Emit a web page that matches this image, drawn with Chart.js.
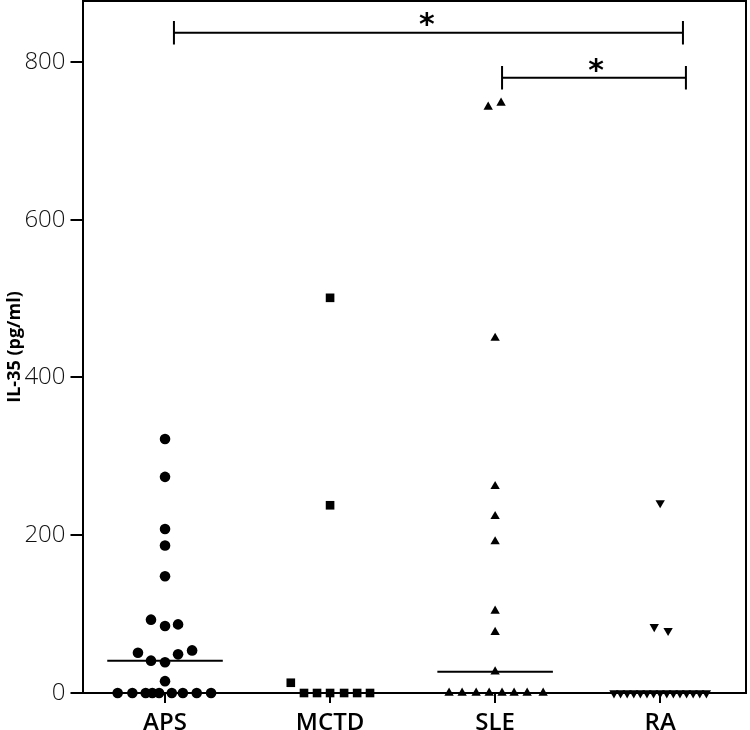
<!DOCTYPE html>
<html><head><meta charset="utf-8">
<script src="https://cdn.jsdelivr.net/npm/chart.js@4/dist/chart.umd.min.js"></script>
<style>html,body{margin:0;padding:0;background:#fff}#wrap{width:750px;height:730px;position:relative}</style>
</head><body><div id="wrap"><canvas id="c"></canvas></div>
<script>
// ---- data ----
const categories = ['APS', 'MCTD', 'SLE', 'RA'];
const yTicks = [0, 200, 400, 600, 800];
const yTitle = 'IL-35 (pg/ml)';

const apsValues  = [322, 274, 208, 187, 148, 93, 85, 87, 51, 54, 49, 41, 39, 15, 0, 0, 0, 0, 0, 0, 0, 0, 0];
const apsJitter  = [0, 0, 0, 0, 0, -0.085, 0, 0.079, -0.164, 0.164, 0.079, -0.085, 0, 0,
                    -0.287, -0.198, -0.117, -0.077, -0.036, 0.041, 0.108, 0.192, 0.279];
const mctdValues = [501, 238, 13, 0, 0, 0, 0, 0, 0];
const mctdJitter = [0, 0, -0.238, -0.158, -0.079, 0, 0.085, 0.164, 0.242];
const sleValues  = [748, 743, 450, 262, 224, 192, 104, 77, 27, 0, 0, 0, 0, 0, 0, 0, 0];
const sleJitter  = [0.036, -0.042, 0, 0, 0, 0, 0, 0, 0, -0.279, -0.2, -0.115, -0.036, 0.042, 0.115, 0.194, 0.291];
const raValues   = [241, 84, 79, 0, 0, 0, 0, 0, 0, 0, 0, 0, 0, 0, 0, 0, 0, 0];
const raJitter   = [0, -0.036, 0.048, -0.28, -0.24, -0.2, -0.16, -0.12, -0.08, -0.04, 0, 0.04, 0.08, 0.12, 0.16, 0.2, 0.24, 0.28];

// significance brackets: [from category pos, to category pos, value level]
const bracketFrom  = [0.054, 2.042];
const bracketTo    = [3.138, 3.156];
const bracketLevel = [837, 780];
const bracketTick  = 15;
const starLabels   = ['*', '*'];
const starX        = [1.587, 2.611];
const starY        = [854, 795];

// ---- helpers ----
function median(arr) {
  const s = [...arr].sort((a, b) => a - b);
  const n = s.length;
  return n % 2 ? s[(n - 1) / 2] : (s[n / 2 - 1] + s[n / 2]) / 2;
}
function pts(values, jitter, idx) {
  return values.map((v, i) => ({ x: idx + jitter[i], y: v }));
}
const groups = [
  { v: apsValues, j: apsJitter, style: 'circle', r: 5.3, rot: 0 },
  { v: mctdValues, j: mctdJitter, style: 'rect', r: 6.1, rot: 0 },
  { v: sleValues, j: sleJitter, style: 'triangle', r: 5.4, rot: 0 },
  { v: raValues, j: raJitter, style: 'triangle', r: 5.4, rot: 180 }
];
const medianHalf = 0.35;

const datasets = [];
groups.forEach((g, i) => {
  datasets.push({
    type: 'scatter', data: pts(g.v, g.j, i),
    pointStyle: g.style, pointRadius: g.r, pointRotation: g.rot,
    pointBackgroundColor: '#000', pointBorderWidth: 0, borderColor: '#000',
    showLine: false, clip: false
  });
});
groups.forEach((g, i) => {
  const m = median(g.v);
  datasets.push({
    type: 'line', data: [{ x: i - medianHalf, y: m }, { x: i + medianHalf, y: m }],
    borderColor: '#000', borderWidth: 2, pointRadius: 0, clip: false, fill: false
  });
});
bracketFrom.forEach((f, k) => {
  const t = bracketTo[k], y = bracketLevel[k];
  datasets.push({
    type: 'line',
    data: [{ x: f, y: y - bracketTick }, { x: f, y: y + bracketTick }, { x: f, y: y },
           { x: t, y: y }, { x: t, y: y + bracketTick }, { x: t, y: y - bracketTick }],
    borderColor: '#000', borderWidth: 2, pointRadius: 0, clip: false, fill: false, tension: 0
  });
});

const framePlugin = {
  id: 'frame',
  beforeDatasetsDraw(chart) {
    const { ctx, chartArea: a } = chart;
    ctx.save();
    ctx.strokeStyle = '#000';
    ctx.lineWidth = 2;
    ctx.beginPath();
    ctx.moveTo(a.left, a.top);
    ctx.lineTo(a.right, a.top);
    ctx.lineTo(a.right, a.bottom);
    ctx.stroke();
    ctx.restore();
  },
  afterDatasetsDraw(chart) {
    const { ctx, scales } = chart;
    ctx.save();
    ctx.fillStyle = '#000';
    ctx.font = 'bold 30px "DejaVu Sans"';
    ctx.textAlign = 'center';
    ctx.textBaseline = 'alphabetic';
    starLabels.forEach((s, k) => {
      const px = scales.x.getPixelForValue(starX[k]);
      const py = scales.y.getPixelForValue(starY[k]);
      const m = ctx.measureText(s);
      const off = (m.actualBoundingBoxAscent - m.actualBoundingBoxDescent) / 2;
      ctx.fillText(s, px, py + off);
    });
    ctx.restore();
  }
};

new Chart(document.getElementById('c'), {
  data: { datasets },
  options: {
    responsive: true, maintainAspectRatio: false, animation: false,
    layout: { autoPadding: false, padding: { top: 1, right: 4, left: 0, bottom: 0 } },
    plugins: { legend: { display: false }, tooltip: { enabled: false } },
    scales: {
      x: {
        type: 'linear', min: -0.5, max: 3.52,
        afterBuildTicks: s => { s.ticks = categories.map((c, i) => ({ value: i })); },
        ticks: {
          callback: v => categories[v], color: '#000', padding: 6,
          autoSkip: false, maxRotation: 0,
          font: { family: 'Open Sans', size: 24, weight: 600 }
        },
        grid: { drawOnChartArea: false, drawTicks: true, tickLength: 10, color: '#000', lineWidth: 2 },
        border: { display: true, color: '#000', width: 2 },
        afterFit: s => { s.height = 37; s.paddingLeft = 0; s.paddingRight = 0; }
      },
      y: {
        type: 'linear', min: 0, max: 877.3,
        afterBuildTicks: s => { s.ticks = yTicks.map(v => ({ value: v })); },
        ticks: { color: '#111', padding: 5, font: { family: 'Open Sans', size: 24, weight: 300 } },
        grid: { drawOnChartArea: false, drawTicks: true, tickLength: 12, color: '#000', lineWidth: 2 },
        border: { display: true, color: '#000', width: 2 },
        title: {
          display: true, text: yTitle, color: '#000',
          font: { family: 'Open Sans', size: 18, weight: 'bold' }, padding: { top: 4, bottom: 0 }
        },
        afterFit: s => { s.width = 82.5; s.paddingTop = 0; s.paddingBottom = 0; }
      }
    }
  },
  plugins: [framePlugin]
});
</script>
</body></html>
